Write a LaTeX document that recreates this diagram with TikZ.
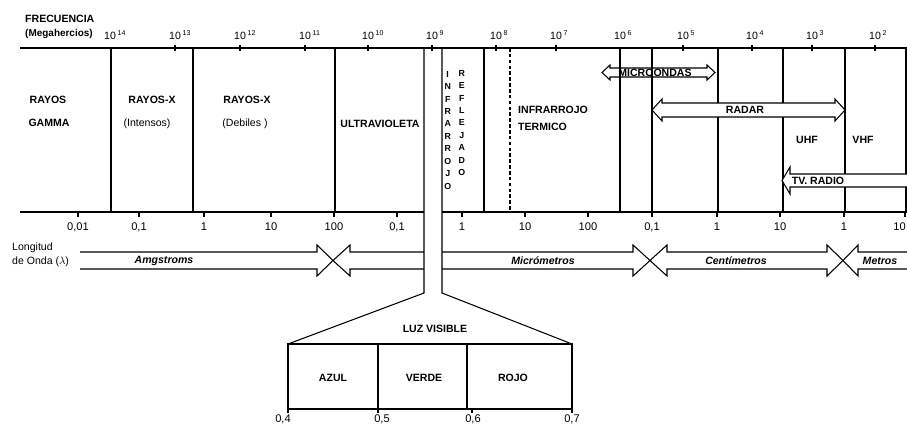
\documentclass[tikz,border=0pt]{standalone}
\usepackage{fontspec}
\setmainfont{Liberation Sans}
\usetikzlibrary{positioning}

\tikzset{
    rule/.style={
        line width=0.9pt,
        line join=miter
    },
    heading/.style={
        font=\bfseries\fontsize{9}{10}\selectfont,
        inner sep=0pt
    },
    caption/.style={
        font=\fontsize{9}{10}\selectfont,
        inner sep=0pt
    },
    scalenum/.style={
        font=\fontsize{9.5}{10}\selectfont,
        inner sep=0pt
    },
    unitname/.style={
        font=\bfseries\itshape\fontsize{9}{10}\selectfont,
        inner sep=0pt
    },
    stacked/.style={
        font=\bfseries\fontsize{7.5}{10.6}\selectfont,
        align=center,
        anchor=north,
        inner sep=0pt
    },
    blockarrow/.style={
        draw,
        fill=white,
        line width=0.9pt,
        line join=miter
    }
}

\begin{document}
\begin{tikzpicture}[x=0.03cm, y=-0.03cm]

\useasboundingbox (0,0) rectangle (907,428);

% ============================================================
% FREQUENCY AXIS
% ============================================================

\node[heading, anchor=west] (freq) at (25,18.5) {FRECUENCIA};
\node[heading, anchor=west, font=\bfseries\fontsize{8.5}{10}\selectfont] (mhz) at (25,34) {(Megahercios)};

\node[caption] (f14) at (110,35) {10\rlap{\,\textsuperscript{14}}};
\node[caption] (f13) at (175,35) {10\rlap{\,\textsuperscript{13}}};
\node[caption] (f12) at (240,35) {10\rlap{\,\textsuperscript{12}}};
\node[caption] (f11) at (305,35) {10\rlap{\,\textsuperscript{11}}};
\node[caption] (f10) at (368,35) {10\rlap{\,\textsuperscript{10}}};
\node[caption] (f9)  at (432,35) {10\rlap{\,\textsuperscript{9}}};
\node[caption] (f8)  at (496,35) {10\rlap{\,\textsuperscript{8}}};
\node[caption] (f7)  at (556,35) {10\rlap{\,\textsuperscript{7}}};
\node[caption] (f6)  at (620,35) {10\rlap{\,\textsuperscript{6}}};
\node[caption] (f5)  at (683,35) {10\rlap{\,\textsuperscript{5}}};
\node[caption] (f4)  at (752,35) {10\rlap{\,\textsuperscript{4}}};
\node[caption] (f3)  at (812,35) {10\rlap{\,\textsuperscript{3}}};
\node[caption] (f2)  at (875,35) {10\rlap{\,\textsuperscript{2}}};

\draw[rule] (20,48) -- (907,48);
\draw[rule]
(175,45) -- (175,51)  (240,45) -- (240,51)  (305,45) -- (305,51)
(368,45) -- (368,51)  (432,45) -- (432,51)  (496,45) -- (496,51)
(556,45) -- (556,51)  (683,45) -- (683,51)  (752,45) -- (752,51)
(812,45) -- (812,51)  (875,45) -- (875,51);

% ============================================================
% BAND BOUNDARIES
% ============================================================

\draw[rule] (20,212) -- (424,212);
\draw[rule] (442,212) -- (907,212);

\draw[rule] (111,48) -- (111,212);
\draw[rule] (193,48) -- (193,212);
\draw[rule] (335,48) -- (335,212);
\draw[rule] (484,48) -- (484,212);
\draw[rule, dash pattern=on 3pt off 2pt] (510,48) -- (510,212);
\draw[rule] (620,48) -- (620,212);
\draw[rule] (652,48) -- (652,212);
\draw[rule] (718,48) -- (718,212);
\draw[rule] (783,48) -- (783,212);
\draw[rule] (845,48) -- (845,212);
\draw[rule] (906,48) -- (906,212);

% funnel down to the visible band
\draw[rule] (424,48) -- (424,293) -- (288,344);
\draw[rule] (442,48) -- (442,293) -- (572,344);

% ============================================================
% BAND NAMES
% ============================================================

\node[heading] (gammaA) at (48,100) {RAYOS};
\node[heading] (gammaB) at (49,123) {GAMMA};

\node[heading] (hardA) at (152,100) {RAYOS-X};
\node[caption] (hardB) at (147,124) {(Intensos)};

\node[heading] (softA) at (247,100) {RAYOS-X};
\node[caption] (softB) at (245,124) {(Debiles )};

\node[heading] (uv) at (380,124) {ULTRAVIOLETA};

\node[stacked] (irref) at (447.7,71)
{I\\N\\F\\R\\A\\R\\R\\O\\J\\O};

\node[stacked] (refl) at (461.7,70)
{R\\E\\F\\L\\E\\J\\A\\D\\O};

\node[heading, anchor=west] (irtA) at (518,109.5) {INFRARROJO};
\node[heading, anchor=west] (irtB) at (518,126.5) {TERMICO};

\node[heading] (uhf) at (807,140) {UHF};
\node[heading] (vhf) at (863,140) {VHF};

% microondas
\draw[rule]
(602,72.5) -- (610,65) -- (610,68) -- (707,68) -- (707,65) -- (715,72.5)
-- (707,80) -- (707,77) -- (610,77) -- (610,80) -- cycle;
\node[heading] (micro) at (655,72.5) {MICROONDAS};

% radar
\draw[blockarrow]
(652,110) -- (662,99) -- (662,103) -- (835,103) -- (835,99) -- (845,110)
-- (835,121) -- (835,117) -- (662,117) -- (662,121) -- cycle;
\node[heading] (radar) at (745,110) {RADAR};

% tv, radio
\draw[blockarrow]
(910,174) -- (790,174) -- (790,167) -- (782,180.5) -- (790,194)
-- (790,187) -- (910,187) -- cycle;
\node[heading] (tv) at (818,180.5) {TV. RADIO};

% ============================================================
% WAVELENGTH AXIS
% ============================================================

\draw[rule]
(78,212) -- (78,217)    (139,212) -- (139,217)  (204,212) -- (204,217)
(271,212) -- (271,217)  (334,212) -- (334,217)  (397,212) -- (397,217)
(462,212) -- (462,217)  (525,212) -- (525,217)  (588,212) -- (588,217)
(652,212) -- (652,217)  (717,212) -- (717,217)  (780,212) -- (780,217)
(844,212) -- (844,217)  (905,212) -- (905,217);

\node[scalenum] (w1)  at (78,227)  {0,01};
\node[scalenum] (w2)  at (139,227) {0,1};
\node[scalenum] (w3)  at (204,227) {1};
\node[scalenum] (w4)  at (271,227) {10};
\node[scalenum] (w5)  at (334,227) {100};
\node[scalenum] (w6)  at (397,227) {0,1};
\node[scalenum] (w7)  at (462,227) {1};
\node[scalenum] (w8)  at (525,227) {10};
\node[scalenum] (w9)  at (588,227) {100};
\node[scalenum] (w10) at (652,227) {0,1};
\node[scalenum] (w11) at (717,227) {1};
\node[scalenum] (w12) at (780,227) {10};
\node[scalenum] (w13) at (844,227) {1};
\node[scalenum, anchor=east] (w14) at (906,227) {10};

\node[caption, anchor=west] (lonA) at (12,248) {Longitud};
\node[caption, anchor=west] (lonB) at (12,262) {de Onda ($\lambda$)};

% unit arrows
\draw[rule]
(80,252) -- (317,252) -- (317,245) -- (333,260.5) -- (317,276) -- (317,269) -- (80,269);
\draw[rule]
(424,252) -- (350,252) -- (350,245) -- (333,260.5) -- (350,276) -- (350,269) -- (424,269);
\draw[rule]
(442,252) -- (633,252) -- (633,245) -- (650,260.5) -- (633,276) -- (633,269) -- (442,269);
\draw[rule]
(650,260.5) -- (667,245) -- (667,252) -- (827,252) -- (827,245) -- (843,260.5)
-- (827,276) -- (827,269) -- (667,269) -- (667,276) -- cycle;
\draw[rule]
(907,252) -- (858,252) -- (858,245) -- (843,260.5) -- (858,276) -- (858,269) -- (907,269);

\node[unitname] (angs)  at (164,261) {Amgstroms};
\node[unitname] (micm)  at (543,261) {Micrómetros};
\node[unitname] (centm) at (736,261) {Centímetros};
\node[unitname] (metm)  at (880,261) {Metros};

% ============================================================
% VISIBLE LIGHT
% ============================================================

\node[heading] (luz) at (435,329) {LUZ VISIBLE};

\draw[rule] (288,344) rectangle (572,409);
\draw[rule] (378,344) -- (378,409);
\draw[rule] (467,344) -- (467,409);
\draw[rule]
(288,409) -- (288,413)  (378,409) -- (378,413)
(472,409) -- (472,413)  (572,409) -- (572,413);

\node[heading] (azul)  at (333,378) {AZUL};
\node[heading] (verde) at (424,378) {VERDE};
\node[heading] (rojo)  at (513,378) {ROJO};

\node[scalenum] (v4) at (283,419) {0,4};
\node[scalenum] (v5) at (382,419) {0,5};
\node[scalenum] (v6) at (473,419) {0,6};
\node[scalenum] (v7) at (572,419) {0,7};

\end{tikzpicture}
\end{document}
